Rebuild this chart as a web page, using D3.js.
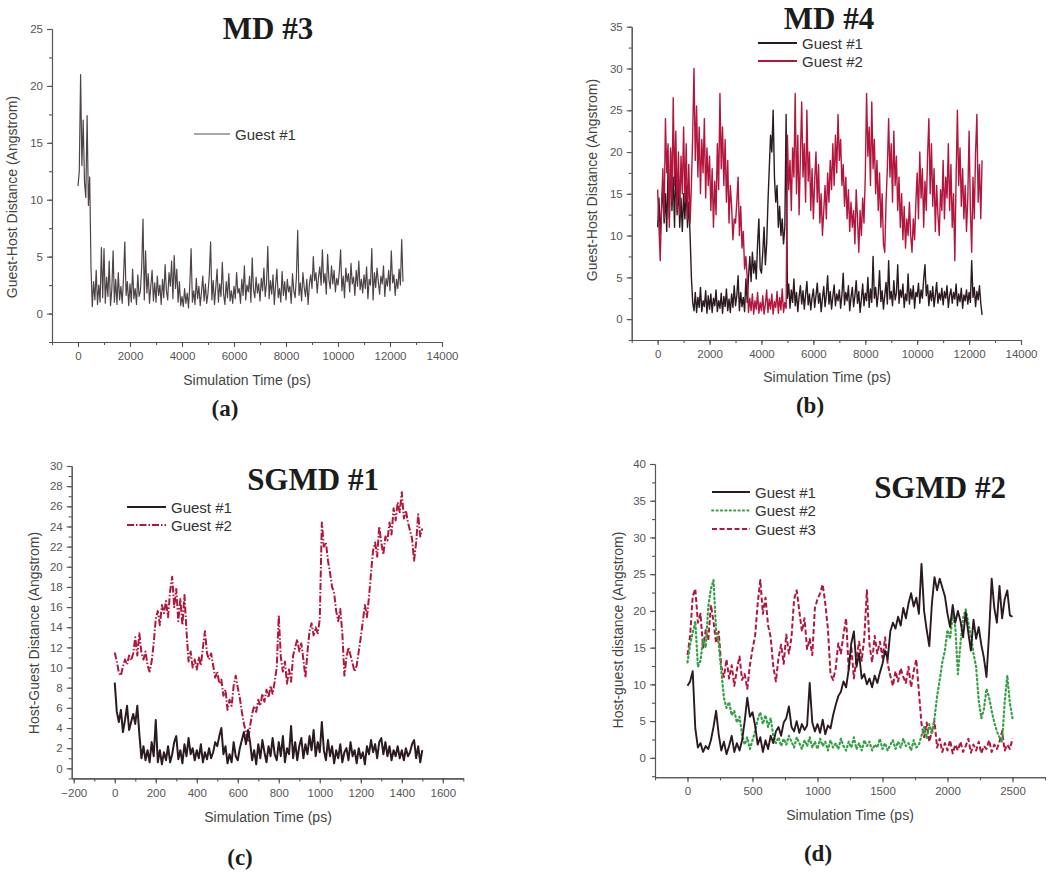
<!DOCTYPE html>
<html><head><meta charset="utf-8">
<script src="https://cdn.jsdelivr.net/npm/d3@7"></script>
<style>
html,body{margin:0;padding:0;background:#fff;}
svg{display:block;}
.tick text{font-family:"Liberation Sans",Arial,sans-serif;}
</style></head>
<body>
<svg id="chart" width="1050" height="872"></svg>
<script>
// ---------------- DATA ----------------
// Panel (a) MD #3, Guest #1, sampled every 50 ps from 0 to 12500 ps
const md3Step = 50;
const md3Guest1 = [
 11.2,12.5,21.0,13.0,17.0,11.5,10.2,17.4,9.5,12.0,4.0,0.6,2.8,1.2,3.8,0.8,2.5,1.0,5.8,1.4,
 5.7,0.9,3.2,1.5,4.6,0.7,2.1,5.5,1.0,3.0,0.8,3.6,1.2,2.4,0.9,3.1,6.3,1.6,2.8,0.7,
 2.6,1.0,3.9,1.3,2.2,0.8,3.4,1.5,2.0,4.1,8.3,1.2,5.5,1.8,3.5,0.9,2.4,3.8,1.1,2.7,
 1.0,3.3,1.6,2.5,0.8,3.0,1.4,4.3,2.0,1.2,3.6,2.4,4.6,1.3,5.1,2.2,3.9,1.0,2.8,0.7,
 1.5,0.6,2.2,0.9,1.8,0.5,2.5,5.7,1.0,2.0,0.8,3.1,1.3,2.4,0.7,1.9,3.3,1.1,2.6,0.9,
 1.8,3.4,6.3,1.2,2.9,0.8,2.3,3.9,1.0,2.6,1.5,4.5,1.7,0.8,2.8,1.4,3.5,1.1,2.0,0.9,
 2.4,1.3,3.6,1.8,2.2,0.9,3.0,1.6,4.2,1.2,2.5,1.9,3.3,1.0,4.9,2.1,1.4,3.2,1.8,2.6,
 1.1,3.1,2.0,4.0,1.5,2.6,5.9,1.3,2.9,1.7,3.4,0.8,2.5,3.9,1.4,2.2,1.0,3.7,1.6,2.8,
 1.2,3.0,1.9,2.4,0.9,3.5,2.0,1.4,3.2,7.3,1.6,2.7,1.1,3.6,2.3,1.5,3.0,0.8,2.6,3.4,
 2.2,5.0,2.9,3.6,1.8,3.2,4.1,2.5,5.6,2.7,3.5,1.7,5.2,3.0,2.2,4.2,2.6,3.8,1.9,3.1,
 2.5,3.7,5.6,2.0,3.3,1.4,4.0,2.8,3.5,1.9,4.4,2.6,3.2,1.6,3.8,2.4,4.6,2.1,3.0,1.8,
 3.4,2.2,4.1,1.3,3.0,2.5,5.7,1.2,3.6,2.3,4.0,2.8,1.7,3.3,2.6,4.2,1.5,3.1,2.4,3.8,
 2.0,5.5,2.7,3.4,1.6,3.0,2.2,3.9,2.5,6.5,2.8
];

// Panel (b) MD #4, sampled every 50 ps from 0 to 12500 ps
const md4Step = 50;
const md4Guest1 = [
 11.0,14.5,10.0,13.0,16.0,11.5,15.0,10.5,18.0,12.0,20.0,13.0,17.0,11.0,18.5,12.5,16.0,11.0,14.5,10.5,
 15.0,12.0,16.0,11.0,14.0,10.0,5.0,2.0,1.0,3.2,0.8,2.6,1.4,3.8,0.9,2.2,1.5,3.4,0.7,2.8,
 1.2,3.0,0.8,2.5,1.6,3.5,0.9,2.2,1.3,3.1,0.7,2.7,1.5,3.6,1.0,2.4,0.8,3.0,1.4,4.0,
 1.6,2.8,5.2,1.0,3.2,1.5,2.6,0.9,4.8,2.0,5.0,7.5,4.5,8.0,5.5,7.0,4.8,9.0,12.0,6.0,
 5.5,8.0,11.0,6.5,9.0,14.0,18.0,22.0,20.0,25.0,17.0,14.0,16.0,11.0,13.5,10.0,12.0,9.0,11.0,24.5,
 2.5,4.2,1.3,3.5,2.0,4.8,1.6,3.2,0.9,2.7,4.0,1.8,3.4,1.2,2.9,4.5,1.7,3.0,1.1,2.6,
 3.6,1.4,2.8,4.3,1.9,3.1,0.9,2.5,3.9,1.5,2.9,5.2,1.8,3.3,1.2,2.7,4.1,1.6,3.0,2.2,
 3.5,1.3,2.9,5.5,1.7,3.2,2.2,4.0,1.0,2.6,3.8,1.5,2.8,4.6,1.9,3.3,0.8,2.4,4.2,1.6,
 3.1,2.2,5.0,1.4,3.6,2.0,7.5,2.5,3.8,1.5,3.0,5.8,2.1,3.4,1.2,2.8,4.4,1.8,7.0,2.4,
 3.3,1.6,4.6,2.3,3.1,6.5,1.9,3.5,2.6,4.2,1.4,3.0,2.2,5.4,1.8,3.6,2.4,4.0,1.3,3.2,
 2.7,4.3,1.9,3.5,2.5,4.8,6.5,2.8,4.1,1.6,3.4,2.2,3.9,1.5,2.9,4.4,1.9,3.1,2.3,3.7,
 1.7,3.3,2.5,4.0,1.4,2.8,3.6,1.9,3.2,2.4,4.2,1.6,3.0,2.1,3.7,1.3,2.9,2.2,3.5,1.8,
 3.2,2.0,7.0,2.6,3.8,1.5,3.3,2.3,4.0,1.9,0.5
];
const md4Guest2 = [
 15.5,11.0,7.0,13.5,18.0,12.0,24.0,17.5,21.0,11.0,20.5,14.0,26.5,16.0,22.5,13.0,20.0,12.5,19.5,15.0,
 23.0,14.0,21.0,12.0,18.5,11.5,16.0,22.0,30.0,19.0,25.5,17.0,23.0,15.0,21.5,17.5,24.0,14.5,20.5,16.0,
 19.5,13.0,18.0,11.0,16.5,12.5,21.0,15.5,27.0,18.0,23.0,16.0,21.5,14.0,19.0,11.5,16.0,13.5,9.5,12.0,
 11.5,14.0,17.0,10.0,13.5,8.5,10.5,6.0,7.5,5.0,0.8,2.5,1.0,3.0,0.6,2.2,1.2,3.2,0.7,2.0,
 1.0,2.8,0.6,1.8,3.5,0.8,2.4,1.2,3.0,0.6,2.1,1.4,3.3,0.7,2.6,1.1,3.6,0.8,2.0,1.3,
 22.0,15.5,19.0,13.0,20.5,17.0,27.0,15.0,22.0,12.5,19.5,26.0,17.0,21.0,14.0,25.0,16.5,20.0,13.0,18.0,
 12.0,16.5,20.0,14.0,18.5,11.5,15.0,10.0,13.0,16.0,12.0,17.5,14.0,19.0,15.5,21.0,16.0,22.0,17.5,24.5,
 19.0,21.5,16.0,18.5,13.5,17.0,12.0,15.5,10.5,14.0,11.0,13.0,9.0,15.5,12.0,8.0,13.0,10.0,14.5,11.5,
 17.0,27.0,19.5,23.0,16.0,26.0,18.0,21.5,15.0,19.0,13.0,17.5,11.0,15.0,9.0,8.0,14.0,18.0,24.0,17.0,
 21.0,14.0,22.5,16.0,19.5,13.0,17.0,11.0,15.0,9.5,13.5,8.5,12.0,10.0,14.0,10.0,8.0,12.0,9.5,14.0,
 17.5,12.0,20.0,14.5,18.0,11.0,16.5,13.0,19.5,24.0,15.0,21.0,13.5,18.0,10.5,16.0,12.5,10.0,15.5,13.0,
 19.0,12.0,17.0,14.5,21.0,13.0,18.5,11.0,15.0,7.0,17.0,25.0,16.0,20.5,13.5,18.0,12.0,16.0,10.5,14.5,
 22.5,13.0,8.0,17.0,12.0,20.0,24.5,14.0,18.5,12.0,19.0
];

// Panel (c) SGMD #1, sampled every 10 ps from 0 to 1500 ps
const sgmd1Step = 10;
const sgmd1Guest1 = [
 8.5,5.6,4.6,5.8,3.6,4.8,6.2,3.8,4.6,5.4,
 4.4,6.2,3.4,1.0,2.2,0.8,1.8,0.6,2.6,1.2,
 4.8,0.6,1.8,0.4,1.6,0.8,2.2,0.6,1.4,2.6,
 3.2,0.9,1.8,0.5,2.4,1.2,3.0,1.4,2.0,0.8,
 1.8,1.0,2.4,0.6,1.6,0.9,2.0,1.0,1.6,2.6,
 2.2,3.2,4.0,1.4,2.2,0.5,1.4,0.6,2.6,1.2,
 0.8,2.0,2.8,3.6,2.4,3.8,2.6,0.8,1.8,0.4,
 2.4,1.0,2.8,1.6,0.6,2.2,1.2,3.0,1.4,0.8,
 2.6,1.2,3.2,0.6,2.0,1.4,4.2,1.0,2.6,0.8,
 2.2,3.0,1.0,2.4,1.4,3.2,1.8,3.8,1.2,2.6,
 1.6,4.6,1.8,0.8,2.8,1.2,2.2,0.5,1.8,1.0,
 2.4,0.6,1.6,2.0,0.8,2.6,1.2,1.8,0.5,2.0,
 1.0,1.6,0.4,2.2,1.4,2.8,1.6,2.4,1.0,2.6,
 3.0,1.4,2.6,1.2,2.2,0.8,1.8,1.2,2.2,1.0,
 1.8,0.8,2.0,1.2,1.6,2.4,2.8,1.0,2.2,0.6,
 1.8
];
const sgmd1Guest2 = [
 11.5,10.6,9.5,9.2,10.1,10.8,10.3,11.2,10.7,11.4,
 13.0,11.2,13.4,11.5,10.8,11.6,10.2,9.6,10.6,12.4,
 14.8,15.6,14.2,16.2,15.4,16.6,15.0,17.6,19.0,16.0,
 17.8,14.6,16.8,14.2,17.2,13.6,10.6,11.6,10.0,10.8,
 9.8,11.0,10.2,12.0,13.6,11.4,10.8,11.4,10.2,9.0,
 9.6,8.4,8.8,7.2,7.8,5.8,6.8,6.2,8.2,9.2,
 8.0,7.0,5.6,4.4,3.6,2.6,4.2,5.4,6.2,5.6,
 6.8,6.2,7.4,6.6,7.8,7.0,8.2,7.4,8.6,10.0,
 15.2,11.0,9.6,10.6,8.4,9.8,8.6,11.2,12.0,12.8,
 11.6,12.4,10.8,9.0,11.6,13.6,14.4,13.2,14.0,13.4,
 14.8,24.4,22.0,22.4,20.6,19.4,18.0,17.4,15.6,14.6,
 15.8,13.4,9.2,11.0,12.0,11.2,10.4,9.6,10.2,11.6,
 13.0,14.6,16.2,15.0,17.0,19.4,21.6,22.4,21.0,24.0,
 22.4,21.2,23.0,22.6,24.4,23.2,25.8,24.6,26.4,25.4,
 27.4,24.8,25.6,24.4,23.6,22.8,20.6,22.4,25.2,23.0,
 23.8
];

// Panel (d) SGMD #2, sampled every 20 ps from 0 to 2500 ps
const sgmd2Step = 20;
const sgmd2Guest1 = [
 9.8,10.4,11.8,4.0,1.4,2.0,0.8,1.6,1.2,2.4,
 4.2,6.4,3.2,1.0,2.2,0.5,1.6,3.0,0.8,2.0,
 1.0,2.4,5.0,8.2,5.6,6.2,4.4,1.8,2.8,0.8,
 2.4,1.2,3.0,2.0,3.6,4.2,3.0,4.8,5.4,7.0,
 4.2,3.6,5.0,3.4,4.6,3.8,4.4,10.2,4.8,3.6,
 4.6,3.4,5.2,3.2,4.4,4.0,5.8,7.2,8.4,9.0,
 10.4,9.6,12.0,15.6,17.2,12.4,14.2,10.8,11.4,10.0,
 10.8,9.6,11.2,10.2,11.6,12.8,14.6,13.4,17.2,18.4,
 17.6,19.2,18.0,20.4,19.0,21.0,22.4,20.6,21.8,19.6,
 26.4,20.0,17.4,15.2,21.0,24.6,22.8,24.4,23.2,22.0,
 19.6,17.8,20.8,18.4,20.0,18.6,16.4,19.8,17.0,14.6,
 18.8,16.2,17.8,15.4,13.6,11.0,17.0,24.4,20.4,18.4,
 23.4,19.0,21.6,22.8,19.4,19.2
];
const sgmd2Guest2 = [
 13.0,15.4,17.0,18.6,12.4,13.2,16.2,15.0,20.6,23.0,
 24.2,17.4,15.6,11.8,8.2,6.8,7.6,5.8,6.4,4.8,
 5.6,3.2,1.8,2.8,1.2,2.4,3.6,5.2,6.2,4.6,
 5.8,4.2,5.4,3.0,2.0,2.8,1.6,2.6,1.8,3.0,
 2.2,1.4,2.8,2.0,1.2,2.4,1.6,2.8,1.4,2.2,
 1.2,2.6,1.6,2.2,1.0,2.4,1.4,2.0,1.2,2.6,
 1.6,1.0,2.2,1.4,2.8,1.2,2.0,1.0,2.4,1.6,
 2.2,1.0,1.8,1.4,2.6,1.2,2.0,1.0,1.8,2.4,
 1.2,2.2,1.4,2.6,1.6,2.0,1.0,2.4,1.4,1.8,
 3.0,4.2,2.6,4.6,3.2,5.4,8.4,10.6,13.0,14.6,
 17.4,16.2,19.6,17.8,11.4,15.6,19.0,20.2,18.4,16.6,
 14.2,12.4,7.8,5.4,6.6,9.4,8.2,6.4,4.8,3.6,
 2.8,2.2,7.6,11.2,7.4,5.4
];
const sgmd2Guest3 = [
 14.0,16.6,22.0,23.0,18.4,19.6,15.0,17.4,16.0,20.8,
 18.6,15.6,17.2,12.4,11.0,13.4,10.8,12.6,9.8,12.0,
 13.8,10.6,11.4,9.4,12.6,14.8,16.6,21.0,24.2,19.6,
 21.8,18.0,16.4,12.4,10.4,13.6,15.4,12.8,16.8,14.2,
 16.4,21.6,22.8,20.0,17.2,19.0,14.8,16.2,14.0,20.4,
 21.6,22.4,23.6,21.0,17.6,11.4,10.6,12.2,15.6,14.2,
 16.8,19.0,12.0,15.2,10.8,13.6,15.8,13.2,16.4,22.8,
 15.4,13.0,16.6,14.2,15.8,13.6,16.4,12.8,11.2,9.8,
 11.8,10.4,12.2,11.0,10.2,12.4,9.6,11.8,13.4,9.0,
 4.6,2.8,4.8,2.2,3.6,5.0,1.4,2.6,0.8,2.0,
 1.0,2.4,0.6,1.8,1.0,2.2,0.8,1.6,2.6,0.7,
 1.8,1.0,2.2,0.6,1.6,1.2,2.4,0.8,1.8,1.2,
 2.2,3.6,1.0,1.8,1.2,2.6
];

// Tick values
const ticksMDx = [0,2000,4000,6000,8000,10000,12000,14000];
const ticksMD3y = [0,5,10,15,20,25];
const ticksMD4y = [0,5,10,15,20,25,30,35];
const ticksSG1x = [-200,0,200,400,600,800,1000,1200,1400,1600];
const ticksSG1y = [0,2,4,6,8,10,12,14,16,18,20,22,24,26,28,30];
const ticksSG2x = [0,500,1000,1500,2000,2500];
const ticksSG2y = [0,5,10,15,20,25,30,35,40];

// ---------------- DRAWING ----------------
const svg = d3.select('#chart');
const BLACK = '#2b1a20', RED = '#b3163c', GREEN = '#35a044', GRAY = '#4e4446';
const sans = '"Liberation Sans", Arial, sans-serif';
const serif = '"Liberation Serif", "Times New Roman", serif';

function range(a, b, s){ const r=[]; for(let v=a; v<=b+1e-9; v+=s) r.push(+v.toFixed(6)); return r; }

const panels = [
 { x0:52, x1:442, y0:342, y1:29, xd:[-1000,14000], yd:[-2.5,25],
   xt:ticksMDx, xm:range(-1000,14000,1000), yt:ticksMD3y, ym:range(-2.5,25,2.5),
   title:'MD #3', tx:268, ty:39, label:'(a)', lx:225, ly:416,
   ylab:'Guest-Host Distance (Angstrom)', ylx:12, yly:197,
   xlab:'Simulation Time (ps)', xlx:247, xly:385,
   series:[{v:md3Guest1, s:md3Step, c:GRAY, w:1.2, name:'Guest #1', lc:'#a8a8a8'}],
   leg:{x:194, y:134, len:36, dy:18} },
 { x0:631.7, x1:1021, y0:340, y1:26.7, xd:[-1000,14000], yd:[-2.5,35],
   xt:ticksMDx, xm:range(-1000,14000,1000), yt:ticksMD4y, ym:range(-2.5,35,2.5),
   title:'MD #4', tx:829, ty:29, label:'(b)', lx:810, ly:413,
   ylab:'Guest-Host Distance (Angstrom)', ylx:592, yly:180,
   xlab:'Simulation Time (ps)', xlx:827, xly:382,
   series:[{v:md4Guest1, s:md4Step, c:BLACK, w:1.4, name:'Guest #1'},
           {v:md4Guest2, s:md4Step, c:RED, w:1.4, name:'Guest #2'}],
   leg:{x:758, y:43, len:39, dy:18} },
 { x0:71.7, x1:463.3, y0:778.4, y1:466, xd:[-210,1700], yd:[-1,30],
   xt:ticksSG1x, xm:range(-200,1700,100), yt:ticksSG1y, ym:range(-1,30,1),
   title:'SGMD #1', tx:313, ty:490, label:'(c)', lx:240, ly:865,
   ylab:'Host-Guest Distance (Angstrom)', ylx:34, yly:633,
   xlab:'Simulation Time (ps)', xlx:268, xly:822,
   series:[{v:sgmd1Guest2, s:sgmd1Step, c:RED, w:2, dash:'7,2,1.5,2', name:'Guest #2'},
           {v:sgmd1Guest1, s:sgmd1Step, c:BLACK, w:2, name:'Guest #1'}],
   legOrder:[1,0], leg:{x:127, y:507, len:39, dy:18} },
 { x0:655, x1:1045, y0:777.3, y1:464, xd:[-250,2750], yd:[-2.65,40],
   xt:ticksSG2x, xm:range(-250,2750,250), yt:ticksSG2y, ym:range(-2.5,40,2.5),
   title:'SGMD #2', tx:940, ty:498, label:'(d)', lx:818, ly:861,
   ylab:'Host-guest distance (Angstrom)', ylx:618, yly:630,
   xlab:'Simulation Time (ps)', xlx:850, xly:820,
   series:[{v:sgmd2Guest3, s:sgmd2Step, c:RED, w:2, dash:'5,2.5', name:'Guest #3'},
           {v:sgmd2Guest2, s:sgmd2Step, c:GREEN, w:2.2, dash:'1.4,3', cap:'round', name:'Guest #2'},
           {v:sgmd2Guest1, s:sgmd2Step, c:BLACK, w:1.9, name:'Guest #1'}],
   legOrder:[2,1,0], leg:{x:712, y:492, len:38, dy:18.5} }
];

panels.forEach(p => {
  const g = svg.append('g');
  const x = d3.scaleLinear().domain(p.xd).range([p.x0, p.x1]);
  const y = d3.scaleLinear().domain(p.yd).range([p.y0, p.y1]);

  // series
  p.series.forEach(s => {
    const line = d3.line().x((d,i) => x(i*s.s)).y(d => y(d));
    g.append('path').datum(s.v).attr('d', line)
      .attr('fill','none').attr('stroke', s.c).attr('stroke-width', s.w)
      .attr('stroke-linejoin','round')
      .attr('stroke-linecap', s.cap || 'butt')
      .attr('stroke-dasharray', s.dash || null);
  });

  // axes
  const axCol = '#555';
  const xMinor = g.append('g').attr('transform', `translate(0,${p.y0})`)
    .call(d3.axisBottom(x).tickValues(p.xm).tickSize(3).tickSizeOuter(0).tickFormat(''));
  const xMajor = g.append('g').attr('transform', `translate(0,${p.y0})`)
    .call(d3.axisBottom(x).tickValues(p.xt).tickSize(5).tickSizeOuter(0).tickPadding(5).tickFormat(d3.format('d')));
  const yMinor = g.append('g').attr('transform', `translate(${p.x0},0)`)
    .call(d3.axisLeft(y).tickValues(p.ym).tickSize(3).tickSizeOuter(0).tickFormat(''));
  const yMajor = g.append('g').attr('transform', `translate(${p.x0},0)`)
    .call(d3.axisLeft(y).tickValues(p.yt).tickSize(5).tickSizeOuter(0).tickPadding(4).tickFormat(d3.format('d')));
  [xMinor, xMajor, yMinor, yMajor].forEach(a => {
    a.selectAll('path,line').attr('stroke', axCol).attr('stroke-width', 1.1);
    a.selectAll('text').attr('fill','#555').style('font-size','11.5px').style('font-family', sans);
  });

  // titles and labels
  g.append('text').attr('x', p.tx).attr('y', p.ty).attr('text-anchor','middle')
    .style('font-family', serif).style('font-weight','bold').style('font-size','31px')
    .attr('fill','#1c1c1c').text(p.title);
  g.append('text').attr('x', p.lx).attr('y', p.ly).attr('text-anchor','middle')
    .style('font-family', serif).style('font-weight','bold').style('font-size','23px')
    .attr('fill','#1c1c1c').text(p.label);
  g.append('text').attr('transform', `translate(${p.ylx},${p.yly}) rotate(-90)`)
    .attr('text-anchor','middle').attr('dominant-baseline','central')
    .style('font-family', sans).style('font-size','14px').attr('fill','#444').text(p.ylab);
  g.append('text').attr('x', p.xlx).attr('y', p.xly).attr('text-anchor','middle')
    .style('font-family', sans).style('font-size','14px').attr('fill','#444').text(p.xlab);

  // legend
  const order = p.legOrder || p.series.map((d,i)=>i);
  order.forEach((si, k) => {
    const s = p.series[si];
    const ly = p.leg.y + k*p.leg.dy;
    g.append('line').attr('x1', p.leg.x).attr('x2', p.leg.x + p.leg.len)
      .attr('y1', ly).attr('y2', ly).attr('stroke', s.lc || s.c)
      .attr('stroke-width', 1.8).attr('stroke-linecap', s.cap || 'butt')
      .attr('stroke-dasharray', s.dash || null);
    g.append('text').attr('x', p.leg.x + p.leg.len + 5).attr('y', ly)
      .attr('dominant-baseline','central')
      .style('font-family', sans).style('font-size','15px').attr('fill','#333').text(s.name);
  });
});
</script>
</body></html>
